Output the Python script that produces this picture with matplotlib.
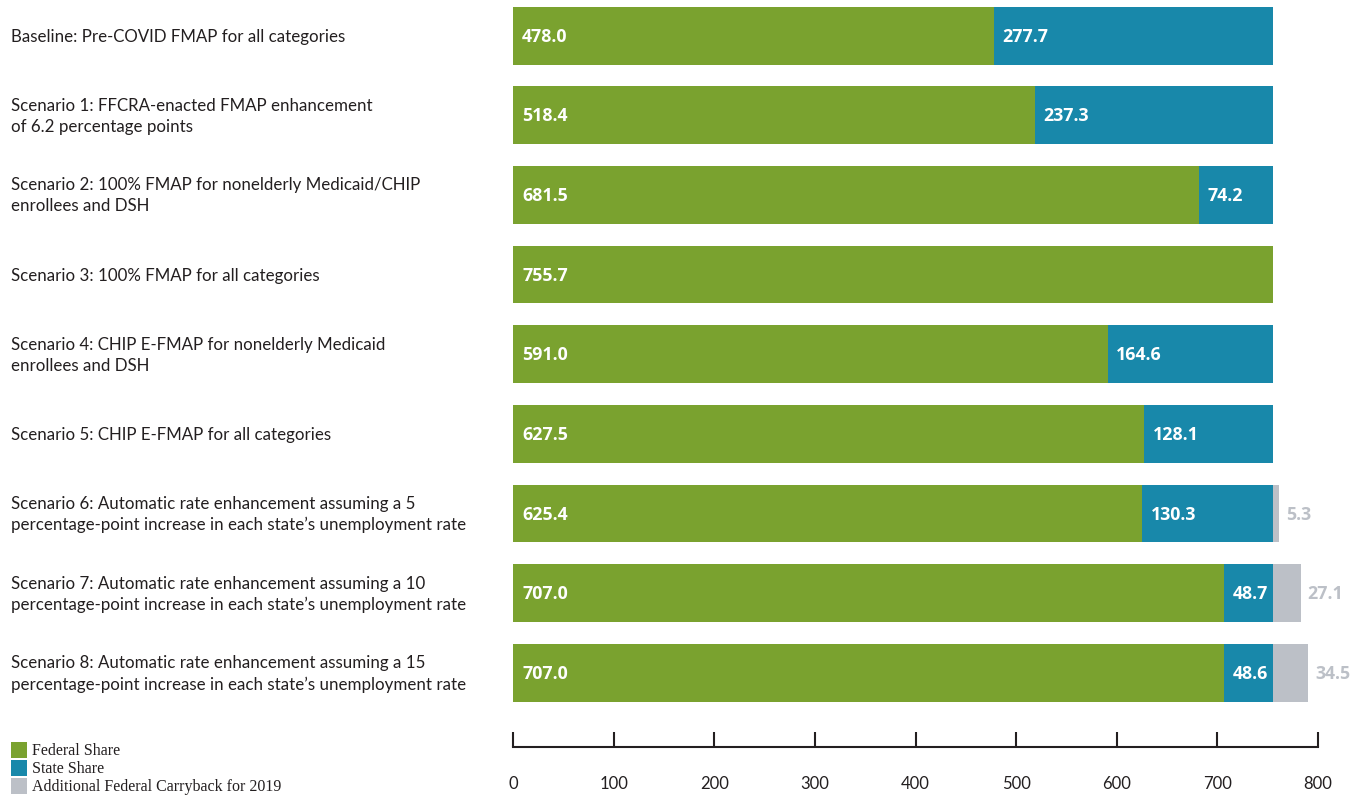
import matplotlib
matplotlib.use("Agg")
import matplotlib.pyplot as plt
from matplotlib.patches import Rectangle
from matplotlib.transforms import blended_transform_factory

# Data (billions)
scenarios = [
    "Baseline: Pre-COVID FMAP for all categories",
    "Scenario 1: FFCRA-enacted FMAP enhancement\nof 6.2 percentage points",
    "Scenario 2: 100% FMAP for nonelderly Medicaid/CHIP\nenrollees and DSH",
    "Scenario 3: 100% FMAP for all categories",
    "Scenario 4: CHIP E-FMAP for nonelderly Medicaid\nenrollees and DSH",
    "Scenario 5: CHIP E-FMAP for all categories",
    "Scenario 6: Automatic rate enhancement assuming a 5\npercentage-point increase in each state\u2019s unemployment rate",
    "Scenario 7: Automatic rate enhancement assuming a 10\npercentage-point increase in each state\u2019s unemployment rate",
    "Scenario 8: Automatic rate enhancement assuming a 15\npercentage-point increase in each state\u2019s unemployment rate",
]
federal = [478.0, 518.4, 681.5, 755.7, 591.0, 627.5, 625.4, 707.0, 707.0]
state = [277.7, 237.3, 74.2, 0.0, 164.6, 128.1, 130.3, 48.7, 48.6]
carryback = [0.0, 0.0, 0.0, 0.0, 0.0, 0.0, 5.3, 27.1, 34.5]
series_labels = ["Federal Share", "State Share", "Additional Federal Carryback for 2019"]
x_ticks = [0, 100, 200, 300, 400, 500, 600, 700, 800]

GREEN = "#7aa22f"
BLUE = "#1888aa"
GRAY = "#bcc0c7"
TEXT = "#231f20"

W, H = 1361, 803
fig = plt.figure(figsize=(W / 100, H / 100), dpi=100)
ax = fig.add_axes([513 / W, 1 - 748 / H, (1318 - 513) / W, 748 / H])

y = list(range(len(scenarios)))
left_state = federal
left_carry = [f + s for f, s in zip(federal, state)]

ax.barh(y, federal, height=0.725, color=GREEN)
ax.barh(y, state, left=left_state, height=0.725, color=BLUE)
ax.barh(y, carryback, left=left_carry, height=0.725, color=GRAY)

ax.set_xlim(0, 800)
ax.set_ylim(8.93, -0.46)

# value labels
lab_kw = dict(textcoords="offset points", ha="left", va="center",
              fontsize=12.8, family="Open Sans", fontweight="bold")
for i in y:
    ax.annotate(f"{federal[i]:.1f}", (0, i), xytext=(6.5, 0), color="white", **lab_kw)
    if state[i] > 0:
        ax.annotate(f"{state[i]:.1f}", (federal[i], i), xytext=(6, 0), color="white", **lab_kw)
    if carryback[i] > 0:
        ax.annotate(f"{carryback[i]:.1f}", (left_carry[i] + carryback[i], i), xytext=(5, 0),
                    color=GRAY, **lab_kw)

# category labels on the left
trans = blended_transform_factory(fig.transFigure, ax.transData)
for i, label in enumerate(scenarios):
    ax.text(11 / W, i, label, transform=trans, ha="left", va="center",
            fontsize=12.2, family="Lato", color=TEXT, linespacing=1.38, clip_on=False)

# axis styling
for side in ["top", "right", "left"]:
    ax.spines[side].set_visible(False)
ax.spines["bottom"].set_linewidth(1.5)
ax.spines["bottom"].set_color(TEXT)
ax.set_yticks([])
ax.set_xticks(x_ticks)
ax.tick_params(axis="x", direction="in", length=11, width=1.5, color=TEXT,
               pad=20, labelsize=12, labelcolor=TEXT)
for t in ax.get_xticklabels():
    t.set_family("Lato")

# legend drawn by hand at the lower left
colors = [GREEN, BLUE, GRAY]
for k, (lab, c) in enumerate(zip(series_labels, colors)):
    top = 743 + k * 18
    fig.add_artist(Rectangle((11 / W, 1 - (top + 16) / H), 16 / W, 16 / H,
                             transform=fig.transFigure, color=c, lw=0))
    fig.text(32 / W, 1 - (top + 8.5) / H, lab, ha="left", va="center",
             fontsize=11.5, family="Liberation Serif", color=TEXT)

fig.savefig("out.png", dpi=100)
